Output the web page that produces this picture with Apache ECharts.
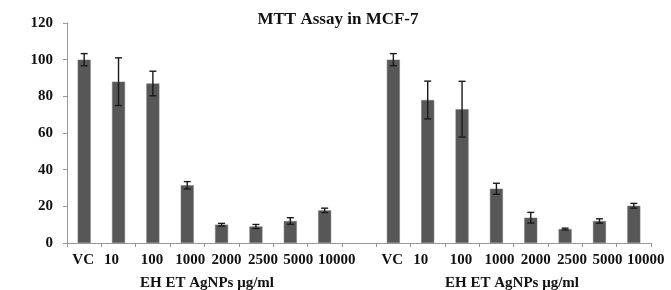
<!DOCTYPE html>
<html>
<head>
<meta charset="utf-8">
<script src="https://cdn.jsdelivr.net/npm/echarts@6/dist/echarts.min.js"></script>
<style>
  html, body { margin: 0; padding: 0; background: #fff; }
  #chart { width: 671px; height: 290px; }
</style>
</head>
<body>
<div id="chart"></div>
<script>
var fontFamily = '"Liberation Serif", "DejaVu Serif", serif';

// two groups of doses, with one empty slot between them
var categories = ['VC', '10', '100', '1000', '2000', '2500', '5000', '10000', '',
                  'VC', '10', '100', '1000', '2000', '2500', '5000', '10000'];
var viability = [100, 88, 87, 31.5, 10, 9, 12, 17.8, null,
                 100, 78, 73, 29.6, 13.8, 7.6, 12, 20.3];
var errors = [3.3, 13, 6.7, 2, 0.7, 1.1, 1.8, 1.2, null,
              3.3, 10.3, 15.2, 3, 2.9, 0.5, 1.2, 1.3];
var yTicks = [0, 20, 40, 60, 80, 100, 120];
var axisName = 'EH ET AgNPs μg/ml';

var errorData = [];
viability.forEach(function (v, i) {
    if (v !== null) {
        errorData.push([i, v - errors[i], v + errors[i]]);
    }
});

// labels in the original sit a bit off their ticks, drifting right along each group
var labelShift = [-1, -7, -1, 3, 5, 7, 8, 12];
var rich = {};
labelShift.forEach(function (s, k) {
    rich['s' + k] = {
        fontFamily: fontFamily, fontSize: 15, fontWeight: 'bold', color: '#111',
        padding: s >= 0 ? [0, 0, 0, 2 * s] : [0, -2 * s, 0, 0]
    };
});

var chart = echarts.init(document.getElementById('chart'));

function renderError(params, api) {
    var x = api.value(0);
    var lo = api.coord([x, api.value(1)]);
    var hi = api.coord([x, api.value(2)]);
    var half = 3.5;
    var style = { stroke: '#1a1a1a', lineWidth: 1.4 };
    return {
        type: 'group',
        children: [
            { type: 'line', shape: { x1: lo[0], y1: lo[1], x2: hi[0], y2: hi[1] }, style: style },
            { type: 'line', shape: { x1: lo[0] - half, y1: lo[1], x2: lo[0] + half, y2: lo[1] }, style: style },
            { type: 'line', shape: { x1: hi[0] - half, y1: hi[1], x2: hi[0] + half, y2: hi[1] }, style: style }
        ]
    };
}

var nameStyle = { fontFamily: fontFamily, fontSize: 15, fontWeight: 'bold', color: '#111' };

var option = {
    backgroundColor: '#fff',
    animation: false,
    textStyle: { fontFamily: fontFamily },
    title: [{
        text: 'MTT Assay in MCF-7',
        left: 338,
        top: 11,
        padding: 0,
        textAlign: 'center',
        textStyle: { fontFamily: fontFamily, fontSize: 17, fontWeight: 'bold', color: '#111' }
    }, {
        text: axisName,
        left: 207,
        top: 276,
        padding: 0,
        textAlign: 'center',
        textStyle: nameStyle
    }, {
        text: axisName,
        left: 512,
        top: 276,
        padding: 0,
        textAlign: 'center',
        textStyle: nameStyle
    }],
    grid: { left: 67, right: 20, top: 23, bottom: 47 },
    xAxis: {
        type: 'category',
        data: categories,
        axisLine: { lineStyle: { color: '#999', width: 1 } },
        axisTick: { show: true, length: 4, lineStyle: { color: '#999' } },
        axisLabel: {
            interval: 0,
            margin: 10,
            color: '#111',
            fontFamily: fontFamily,
            fontSize: 15,
            fontWeight: 'bold',
            hideOverlap: false,
            formatter: function (value, index) {
                if (!value) return '';
                return '{s' + (index % 9) + '|' + value + '}';
            },
            rich: rich
        }
    },
    yAxis: {
        type: 'value',
        min: yTicks[0],
        max: yTicks[yTicks.length - 1],
        interval: 20,
        splitLine: { show: false },
        axisLine: { show: true, lineStyle: { color: '#999', width: 1 } },
        axisTick: { show: true, length: 4, lineStyle: { color: '#999' } },
        axisLabel: {
            margin: 14,
            color: '#111',
            fontFamily: fontFamily,
            fontSize: 15,
            fontWeight: 'bold'
        }
    },
    series: [{
        type: 'bar',
        data: viability,
        barWidth: 13,
        itemStyle: { color: '#575757', borderColor: '#777', borderWidth: 0.5 }
    }, {
        type: 'custom',
        renderItem: renderError,
        data: errorData,
        encode: { x: 0, y: [1, 2] },
        z: 5
    }]
};

chart.setOption(option);
</script>
</body>
</html>
